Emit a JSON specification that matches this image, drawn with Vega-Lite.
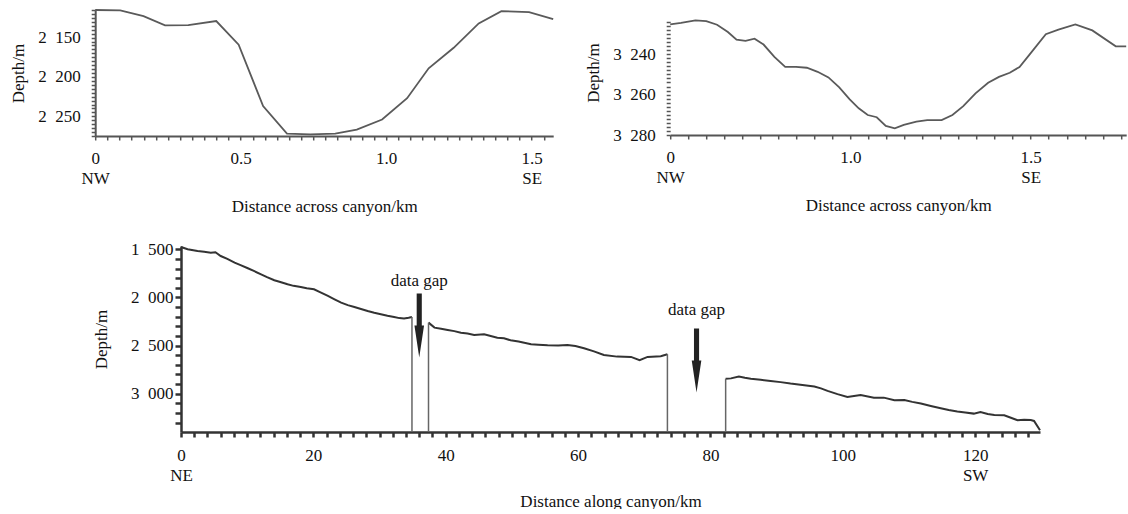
{
  "$schema": "https://vega.github.io/schema/vega-lite/v6.json",
  "background": "white",
  "padding": {"left": 9, "top": 1, "right": 0, "bottom": 0},
  "autosize": {"type": "pad"},
  "config": {
    "view": {"stroke": null},
    "font": "Liberation Serif",
    "axis": {
      "labelFont": "Liberation Serif", "titleFont": "Liberation Serif",
      "labelFontSize": 17, "titleFontSize": 17, "titleFontWeight": "normal",
      "labelColor": "#111", "titleColor": "#111", "grid": false,
      "labelOverlap": false, "labelBound": false, "labelFlush": false, "tickCount": 200
    }
  },
  "datasets": {
    "a": [
      {"dist": 0, "depth": 2115}, {"dist": 0.086, "depth": 2115.4}, {"dist": 0.166, "depth": 2122.7},
      {"dist": 0.24, "depth": 2134.6}, {"dist": 0.32, "depth": 2134.2}, {"dist": 0.416, "depth": 2129},
      {"dist": 0.493, "depth": 2159}, {"dist": 0.577, "depth": 2237}, {"dist": 0.659, "depth": 2272},
      {"dist": 0.739, "depth": 2273}, {"dist": 0.825, "depth": 2272}, {"dist": 0.899, "depth": 2267},
      {"dist": 0.986, "depth": 2254}, {"dist": 1.072, "depth": 2227}, {"dist": 1.146, "depth": 2189},
      {"dist": 1.232, "depth": 2163}, {"dist": 1.318, "depth": 2132}, {"dist": 1.396, "depth": 2116.5},
      {"dist": 1.491, "depth": 2117.6}, {"dist": 1.574, "depth": 2126.5}
    ],
    "b": [
      {"dist": 0.5, "depth": 3225.2}, {"dist": 0.53, "depth": 3224.5}, {"dist": 0.57, "depth": 3223.2},
      {"dist": 0.6, "depth": 3223.6}, {"dist": 0.63, "depth": 3225.4}, {"dist": 0.66, "depth": 3229},
      {"dist": 0.684, "depth": 3232.8}, {"dist": 0.709, "depth": 3233.4}, {"dist": 0.734, "depth": 3232.3},
      {"dist": 0.759, "depth": 3235.2}, {"dist": 0.789, "depth": 3241.3}, {"dist": 0.819, "depth": 3246.3},
      {"dist": 0.849, "depth": 3246.3}, {"dist": 0.879, "depth": 3246.7}, {"dist": 0.909, "depth": 3248.7},
      {"dist": 0.939, "depth": 3251.5}, {"dist": 0.969, "depth": 3256.4}, {"dist": 0.998, "depth": 3262.4},
      {"dist": 1.023, "depth": 3266.8}, {"dist": 1.048, "depth": 3270.1}, {"dist": 1.073, "depth": 3271.2},
      {"dist": 1.098, "depth": 3275.5}, {"dist": 1.123, "depth": 3276.7}, {"dist": 1.148, "depth": 3275},
      {"dist": 1.183, "depth": 3273.4}, {"dist": 1.213, "depth": 3272.6}, {"dist": 1.253, "depth": 3272.6},
      {"dist": 1.283, "depth": 3270.1}, {"dist": 1.313, "depth": 3265.7}, {"dist": 1.347, "depth": 3259.4},
      {"dist": 1.382, "depth": 3254.1}, {"dist": 1.412, "depth": 3251.2}, {"dist": 1.442, "depth": 3249.2},
      {"dist": 1.469, "depth": 3246.3}, {"dist": 1.499, "depth": 3239.7}, {"dist": 1.542, "depth": 3230.1},
      {"dist": 1.577, "depth": 3227.8}, {"dist": 1.624, "depth": 3225.2}, {"dist": 1.671, "depth": 3228.2},
      {"dist": 1.736, "depth": 3236.1}, {"dist": 1.765, "depth": 3236.1}
    ],
    "c": [
      {"seg": 1, "dist": 0, "depth": 1476}, {"seg": 1, "dist": 1.0, "depth": 1500}, {"seg": 1, "dist": 2.5, "depth": 1518},
      {"seg": 1, "dist": 3.5, "depth": 1525}, {"seg": 1, "dist": 4.5, "depth": 1535}, {"seg": 1, "dist": 5.2, "depth": 1530},
      {"seg": 1, "dist": 6.0, "depth": 1570}, {"seg": 1, "dist": 7.0, "depth": 1600}, {"seg": 1, "dist": 8.1, "depth": 1639},
      {"seg": 1, "dist": 9.0, "depth": 1665}, {"seg": 1, "dist": 10.1, "depth": 1697}, {"seg": 1, "dist": 11.0, "depth": 1725},
      {"seg": 1, "dist": 12.1, "depth": 1760}, {"seg": 1, "dist": 13.0, "depth": 1790}, {"seg": 1, "dist": 14.1, "depth": 1822},
      {"seg": 1, "dist": 15.0, "depth": 1840}, {"seg": 1, "dist": 16.1, "depth": 1864}, {"seg": 1, "dist": 17.0, "depth": 1880},
      {"seg": 1, "dist": 18.1, "depth": 1891}, {"seg": 1, "dist": 19.0, "depth": 1905}, {"seg": 1, "dist": 20.1, "depth": 1915},
      {"seg": 1, "dist": 21.0, "depth": 1945}, {"seg": 1, "dist": 22.2, "depth": 1985}, {"seg": 1, "dist": 23.2, "depth": 2020},
      {"seg": 1, "dist": 24.2, "depth": 2054}, {"seg": 1, "dist": 25.2, "depth": 2080}, {"seg": 1, "dist": 26.2, "depth": 2099},
      {"seg": 1, "dist": 27.2, "depth": 2120}, {"seg": 1, "dist": 28.2, "depth": 2141}, {"seg": 1, "dist": 29.2, "depth": 2160},
      {"seg": 1, "dist": 30.2, "depth": 2175}, {"seg": 1, "dist": 31.2, "depth": 2190}, {"seg": 1, "dist": 32.2, "depth": 2203},
      {"seg": 1, "dist": 33.0, "depth": 2215}, {"seg": 1, "dist": 33.7, "depth": 2220}, {"seg": 1, "dist": 34.4, "depth": 2212},
      {"seg": 1, "dist": 34.9, "depth": 2203},
      {"seg": 2, "dist": 37.4, "depth": 2262}, {"seg": 2, "dist": 38.3, "depth": 2314}, {"seg": 2, "dist": 39.3, "depth": 2325},
      {"seg": 2, "dist": 40.3, "depth": 2338}, {"seg": 2, "dist": 41.3, "depth": 2350}, {"seg": 2, "dist": 42.3, "depth": 2366},
      {"seg": 2, "dist": 43.3, "depth": 2375}, {"seg": 2, "dist": 44.3, "depth": 2390}, {"seg": 2, "dist": 45.8, "depth": 2383},
      {"seg": 2, "dist": 46.8, "depth": 2400}, {"seg": 2, "dist": 47.8, "depth": 2418}, {"seg": 2, "dist": 48.8, "depth": 2425},
      {"seg": 2, "dist": 49.8, "depth": 2445}, {"seg": 2, "dist": 51.0, "depth": 2458}, {"seg": 2, "dist": 52.9, "depth": 2487},
      {"seg": 2, "dist": 54.0, "depth": 2492}, {"seg": 2, "dist": 55.4, "depth": 2497}, {"seg": 2, "dist": 57.0, "depth": 2500},
      {"seg": 2, "dist": 58.4, "depth": 2494}, {"seg": 2, "dist": 59.6, "depth": 2505}, {"seg": 2, "dist": 60.9, "depth": 2528},
      {"seg": 2, "dist": 62.4, "depth": 2560}, {"seg": 2, "dist": 63.9, "depth": 2598}, {"seg": 2, "dist": 65.9, "depth": 2615},
      {"seg": 2, "dist": 68.0, "depth": 2618}, {"seg": 2, "dist": 69.3, "depth": 2653}, {"seg": 2, "dist": 70.5, "depth": 2618},
      {"seg": 2, "dist": 72.5, "depth": 2611}, {"seg": 2, "dist": 73.5, "depth": 2590},
      {"seg": 3, "dist": 82.3, "depth": 2844}, {"seg": 3, "dist": 83.1, "depth": 2841}, {"seg": 3, "dist": 84.3, "depth": 2823},
      {"seg": 3, "dist": 85.2, "depth": 2835}, {"seg": 3, "dist": 86.1, "depth": 2844}, {"seg": 3, "dist": 87.6, "depth": 2855},
      {"seg": 3, "dist": 89.1, "depth": 2868}, {"seg": 3, "dist": 90.6, "depth": 2880}, {"seg": 3, "dist": 92.1, "depth": 2895},
      {"seg": 3, "dist": 93.9, "depth": 2910}, {"seg": 3, "dist": 95.7, "depth": 2926}, {"seg": 3, "dist": 96.7, "depth": 2945},
      {"seg": 3, "dist": 97.7, "depth": 2971}, {"seg": 3, "dist": 99.2, "depth": 3005}, {"seg": 3, "dist": 100.7, "depth": 3034},
      {"seg": 3, "dist": 101.7, "depth": 3025}, {"seg": 3, "dist": 102.7, "depth": 3015}, {"seg": 3, "dist": 104.7, "depth": 3041},
      {"seg": 3, "dist": 106.2, "depth": 3041}, {"seg": 3, "dist": 107.8, "depth": 3068}, {"seg": 3, "dist": 109.3, "depth": 3065},
      {"seg": 3, "dist": 110.5, "depth": 3085}, {"seg": 3, "dist": 111.8, "depth": 3103}, {"seg": 3, "dist": 113.3, "depth": 3128},
      {"seg": 3, "dist": 114.8, "depth": 3151}, {"seg": 3, "dist": 116.0, "depth": 3170}, {"seg": 3, "dist": 117.3, "depth": 3186},
      {"seg": 3, "dist": 118.5, "depth": 3195}, {"seg": 3, "dist": 119.8, "depth": 3207}, {"seg": 3, "dist": 120.8, "depth": 3190},
      {"seg": 3, "dist": 121.9, "depth": 3210}, {"seg": 3, "dist": 122.9, "depth": 3221}, {"seg": 3, "dist": 124.4, "depth": 3224},
      {"seg": 3, "dist": 125.4, "depth": 3250}, {"seg": 3, "dist": 126.4, "depth": 3276}, {"seg": 3, "dist": 127.4, "depth": 3270},
      {"seg": 3, "dist": 128.4, "depth": 3273}, {"seg": 3, "dist": 128.9, "depth": 3283}, {"seg": 3, "dist": 129.8, "depth": 3380}
    ],
    "gaps": [
      {"dist": 34.9, "depth": 2203}, {"dist": 37.4, "depth": 2262},
      {"dist": 73.5, "depth": 2590}, {"dist": 82.3, "depth": 2844}
    ],
    "notes": [
      {"note": "data gap", "dist": 36.0, "labelDepth": 1829, "arrowDepth": 2291},
      {"note": "data gap", "dist": 77.9, "labelDepth": 2130, "arrowDepth": 2655}
    ]
  },
  "center": true,
  "spacing": 26,
  "vconcat": [
    {
      "spacing": 27,
      "hconcat": [
        {
          "width": 458, "height": 126,
          "layer": [
            {
              "data": {"name": "a"},
              "mark": {"type": "line", "color": "#5a5a5a", "strokeWidth": 1.8},
              "encoding": {
                "x": {"field": "dist", "type": "quantitative",
                  "scale": {"domain": [0, 1.574], "nice": false, "zero": false},
                  "axis": {"title": "Distance across canyon/km",
                    "values": [0, 0.0417, 0.0833, 0.125, 0.1667, 0.2083, 0.25, 0.2917, 0.3333, 0.375, 0.4167, 0.4583, 0.5, 0.5417, 0.5833, 0.625, 0.6667, 0.7083, 0.75, 0.7917, 0.8333, 0.875, 0.9167, 0.9583, 1.0, 1.0417, 1.0833, 1.125, 1.1667, 1.2083, 1.25, 1.2917, 1.3333, 1.375, 1.4167, 1.4583, 1.5, 1.5417],
                    "labelExpr": "datum.value == 0 ? ['0','NW'] : datum.value == 0.5 ? '0.5' : datum.value == 1 ? '1.0' : datum.value == 1.5 ? ['1.5','SE'] : ''",
                    "tickSize": 4, "tickWidth": 1.5, "tickColor": "#555", "domainColor": "#555", "domainWidth": 2,
                    "labelPadding": 10, "labelLineHeight": 20, "titlePadding": 12}},
                "y": {"field": "depth", "type": "quantitative",
                  "scale": {"domain": [2115, 2275], "reverse": true, "nice": false, "zero": false},
                  "axis": {"title": "Depth/m",
                    "values": [2115, 2120, 2125, 2130, 2135, 2140, 2145, 2150, 2155, 2160, 2165, 2170, 2175, 2180, 2185, 2190, 2195, 2200, 2205, 2210, 2215, 2220, 2225, 2230, 2235, 2240, 2245, 2250, 2255, 2260, 2265, 2270, 2275],
                    "labelExpr": "datum.value % 50 == 0 ? replace(format(datum.value, ','), ',', '\u2002') : ''",
                    "tickSize": 4, "tickWidth": 1.5, "tickColor": "#555", "domainColor": "#555", "domainWidth": 2,
                    "labelPadding": 11, "titlePadding": 10}}
              }
            },
            {
              "mark": {"type": "text", "fontSize": 20, "color": "#111"},
              "encoding": {"x": {"datum": 0.058}, "y": {"datum": 2139}, "text": {"value": "a"}}
            }
          ]
        },
        {
          "width": 456, "height": 125,
          "layer": [
            {
              "data": {"name": "b"},
              "mark": {"type": "line", "color": "#5a5a5a", "strokeWidth": 1.8},
              "encoding": {
                "x": {"field": "dist", "type": "quantitative",
                  "scale": {"domain": [0.5, 1.765], "nice": false, "zero": false},
                  "axis": {"title": "Distance across canyon/km",
                    "values": [0.5, 0.55, 0.6, 0.65, 0.7, 0.75, 0.8, 0.85, 0.9, 0.95, 1, 1.05, 1.1, 1.15, 1.2, 1.25, 1.3, 1.35, 1.4, 1.45, 1.5, 1.55, 1.6, 1.65, 1.7, 1.75],
                    "labelExpr": "datum.value == 0.5 ? ['0','NW'] : datum.value == 1 ? '1.0' : datum.value == 1.5 ? ['1.5','SE'] : ''",
                    "tickSize": 4, "tickWidth": 1.5, "tickColor": "#555", "domainColor": "#555", "domainWidth": 2,
                    "labelPadding": 10, "labelLineHeight": 20, "titlePadding": 12}},
                "y": {"field": "depth", "type": "quantitative",
                  "scale": {"domain": [3218.1, 3280], "reverse": true, "nice": false, "zero": false},
                  "axis": {"title": "Depth/m", "domain": false,
                    "values": [3224, 3226, 3228, 3230, 3232, 3234, 3236, 3238, 3240, 3242, 3244, 3246, 3248, 3250, 3252, 3254, 3256, 3258, 3260, 3262, 3264, 3266, 3268, 3270, 3272, 3274, 3276, 3278, 3280],
                    "labelExpr": "datum.value % 20 == 0 ? replace(format(datum.value, ','), ',', '\u2002') : ''",
                    "tickSize": 4, "tickWidth": 1.5, "tickColor": "#555",
                    "labelPadding": 11, "titlePadding": 10}}
              }
            },
            {
              "mark": {"type": "rule", "color": "#555", "strokeWidth": 2},
              "encoding": {"x": {"datum": 0.5}, "y": {"datum": 3223.5}, "y2": {"datum": 3280}}
            },
            {
              "mark": {"type": "text", "fontSize": 20, "color": "#111"},
              "encoding": {"x": {"datum": 0.547}, "y": {"datum": 3234}, "text": {"value": "b"}}
            }
          ]
        }
      ]
    },
    {
      "width": 859, "height": 186,
      "layer": [
        {
          "data": {"name": "c"},
          "mark": {"type": "line", "color": "#333", "strokeWidth": 2},
          "encoding": {
            "detail": {"field": "seg"},
            "x": {"field": "dist", "type": "quantitative",
              "scale": {"domain": [0, 129.8], "nice": false, "zero": false},
              "axis": {"title": "Distance along canyon/km",
                "values": [0, 2, 4, 6, 8, 10, 12, 14, 16, 18, 20, 22, 24, 26, 28, 30, 32, 34, 36, 38, 40, 42, 44, 46, 48, 50, 52, 54, 56, 58, 60, 62, 64, 66, 68, 70, 72, 74, 76, 78, 80, 82, 84, 86, 88, 90, 92, 94, 96, 98, 100, 102, 104, 106, 108, 110, 112, 114, 116, 118, 120, 122, 124, 126, 128],
                "labelExpr": "datum.value == 0 ? ['0','NE'] : datum.value == 120 ? ['120','SW'] : datum.value % 20 == 0 ? format(datum.value, 'd') : ''",
                "tickSize": 5, "tickWidth": 2.5, "tickColor": "#333", "domainColor": "#333", "domainWidth": 2.5,
                "labelPadding": 10, "labelLineHeight": 20, "titlePadding": 10}},
            "y": {"field": "depth", "type": "quantitative",
              "scale": {"domain": [1466, 3398], "reverse": true, "nice": false, "zero": false},
              "axis": {"title": "Depth/m",
                "values": [1500, 1600, 1700, 1800, 1900, 2000, 2100, 2200, 2300, 2400, 2500, 2600, 2700, 2800, 2900, 3000, 3100, 3200, 3300],
                "labelExpr": "datum.value % 500 == 0 ? replace(format(datum.value, ','), ',', '\u2002') : ''",
                "tickSize": 6, "tickWidth": 2.5, "tickColor": "#333", "domainColor": "#333", "domainWidth": 2.5,
                "labelPadding": 2, "titlePadding": 20}}
          }
        },
        {
          "data": {"name": "gaps"},
          "mark": {"type": "rule", "color": "#666", "strokeWidth": 1.5},
          "encoding": {
            "x": {"field": "dist", "type": "quantitative"},
            "y": {"field": "depth", "type": "quantitative"},
            "y2": {"datum": 3398}
          }
        },
        {
          "data": {"name": "notes"},
          "mark": {"type": "text", "fontSize": 17, "color": "#111"},
          "encoding": {
            "x": {"field": "dist", "type": "quantitative"},
            "y": {"field": "labelDepth", "type": "quantitative"},
            "text": {"field": "note"}
          }
        },
        {
          "data": {"name": "notes"},
          "mark": {"type": "point", "shape": "M-0.08,-1L0.08,-1L0.08,0L0.15,0L0,1L-0.15,0L-0.08,0Z", "size": 4096, "filled": true, "color": "#222", "opacity": 1, "strokeWidth": 0},
          "encoding": {
            "x": {"field": "dist", "type": "quantitative"},
            "y": {"field": "arrowDepth", "type": "quantitative"}
          }
        },
        {
          "mark": {"type": "text", "fontSize": 20, "color": "#111"},
          "encoding": {"x": {"datum": 3.8}, "y": {"datum": 1756}, "text": {"value": "c"}}
        }
      ]
    }
  ]
}
